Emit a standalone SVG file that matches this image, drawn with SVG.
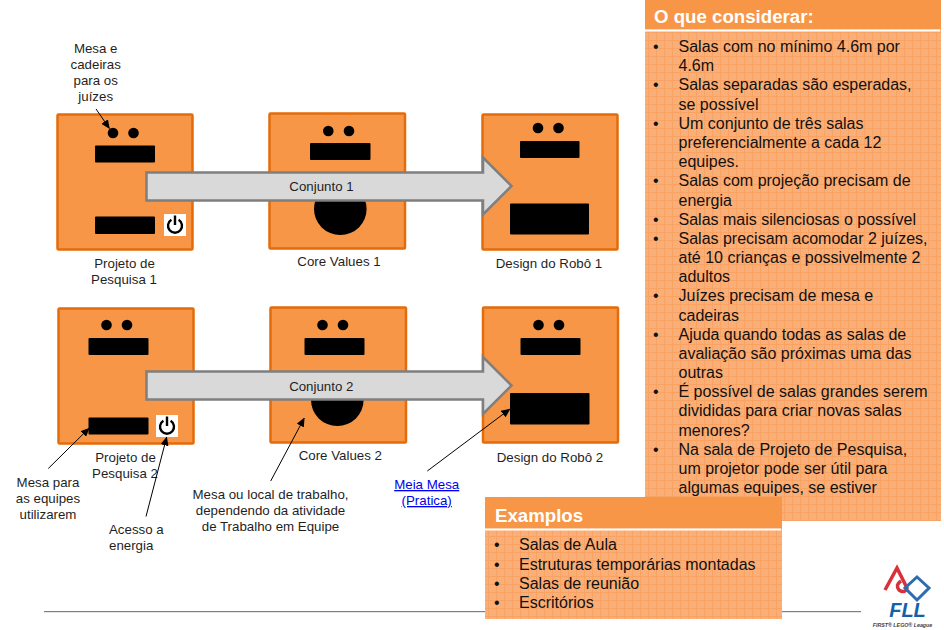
<svg xmlns="http://www.w3.org/2000/svg" width="944" height="630" viewBox="0 0 944 630">
<style>
text{font-family:"Liberation Sans",Arial,sans-serif;font-size:13.3px;fill:#1f1f1f}
.m{text-anchor:middle}
.room{fill:#F79646;stroke:#E46C0A;stroke-width:2.5}
.k{fill:#000}
.arrow{fill:#D9D9D9;stroke:#7F7F7F;stroke-width:2.5}
.lead{stroke:#000;stroke-width:1;fill:none;marker-end:url(#ah)}
.pw{fill:none;stroke:#000;stroke-width:2.4}
.h{font-size:18.67px;font-weight:bold;fill:#fff}
.b{font-size:16px;fill:#111}
.link{fill:#0000EE;text-decoration:underline}
</style>
<defs>
<marker id="ah" markerUnits="userSpaceOnUse" markerWidth="9" markerHeight="8" refX="8.5" refY="4" orient="auto"><path d="M0 0L9 4L0 8z" fill="#000"/></marker>
<pattern id="grid" width="8" height="8" patternUnits="userSpaceOnUse"><rect width="8" height="8" fill="#FAAF78"/><path d="M0 .5H8M.5 0V8" stroke="#F8A263" stroke-width="1"/></pattern>
<g id="pwr"><rect x="-11" y="-11" width="22" height="22" fill="#fff"/><path class="pw" d="M-3.6 -5.2A7 7 0 1 0 3.6 -5.2M0 -9.5V0"/></g>
</defs>

<rect id="rule" x="44" y="611" width="817" height="1.2" fill="#7F7F7F"/>

<g id="room-pesquisa-1">
<rect class="room" x="57.5" y="114.5" width="135" height="135" rx="1"/>
<circle class="k" cx="113" cy="133" r="5.3"/><circle class="k" cx="133.5" cy="133" r="5.3"/>
<rect class="k" x="95" y="145.5" width="60" height="17" rx="1"/>
<rect class="k" x="95" y="216.5" width="60" height="17.5" rx="1"/>
<use href="#pwr" x="175" y="225"/>
<text class="m" x="124.5" y="268">Projeto de</text><text class="m" x="124" y="284">Pesquisa 1</text>
</g>
<g id="room-core-1">
<rect class="room" x="269.5" y="113.5" width="135.5" height="135" rx="1"/>
<circle class="k" cx="328.3" cy="131" r="5.3"/><circle class="k" cx="349" cy="131" r="5.3"/>
<rect class="k" x="310" y="143" width="60.5" height="17" rx="1"/>
<ellipse class="k" cx="340.3" cy="209" rx="26.3" ry="26"/>
<text class="m" x="339" y="266">Core Values 1</text>
</g>
<g id="room-design-1">
<rect class="room" x="482.5" y="114.5" width="135" height="135" rx="1"/>
<circle class="k" cx="538" cy="128" r="5.3"/><circle class="k" cx="558.5" cy="128" r="5.3"/>
<rect class="k" x="520" y="141" width="59.5" height="17" rx="1"/>
<rect class="k" x="510" y="203.5" width="79" height="31" rx="1"/>
<text class="m" x="549" y="268">Design do Robô 1</text>
</g>
<g id="room-pesquisa-2">
<rect class="room" x="58.5" y="308.5" width="135" height="135" rx="1"/>
<circle class="k" cx="106.5" cy="325" r="5.3"/><circle class="k" cx="127" cy="325" r="5.3"/>
<rect class="k" x="88.5" y="338" width="60" height="17" rx="1"/>
<rect class="k" x="88.5" y="417.5" width="60" height="17" rx="1"/>
<use href="#pwr" x="167" y="426"/>
<text class="m" x="125.5" y="462">Projeto de</text><text class="m" x="125" y="478">Pesquisa 2</text>
</g>
<g id="room-core-2">
<rect class="room" x="270.5" y="307.5" width="135.5" height="135" rx="1"/>
<circle class="k" cx="322.5" cy="325" r="5.3"/><circle class="k" cx="343" cy="325" r="5.3"/>
<rect class="k" x="304.5" y="338" width="60" height="17" rx="1"/>
<ellipse class="k" cx="337.3" cy="400" rx="26.3" ry="26"/>
<text class="m" x="340.3" y="460">Core Values 2</text>
</g>
<g id="room-design-2">
<rect class="room" x="483" y="307.5" width="135" height="135" rx="1"/>
<circle class="k" cx="538.5" cy="325" r="5.3"/><circle class="k" cx="559" cy="325" r="5.3"/>
<rect class="k" x="520.5" y="338" width="60" height="17" rx="1"/>
<rect class="k" x="510" y="393" width="79.5" height="31.5" rx="1"/>
<text class="m" x="550" y="462">Design do Robô 2</text>
</g>

<g id="conjunto-1">
<path class="arrow" d="M146.5 172.5H483V157.5L511.5 186L483 214.5V200.5H146.5z"/>
<text class="m" x="321.5" y="191">Conjunto 1</text>
</g>
<g id="conjunto-2">
<path class="arrow" d="M146.5 371.5H483V357L511.5 385.5L483 414V399.5H146.5z"/>
<text class="m" x="321.3" y="391">Conjunto 2</text>
</g>

<g id="connectors">
<line class="lead" x1="96" y1="109" x2="109.5" y2="128.5"/>
<line class="lead" x1="48.3" y1="468.5" x2="89.3" y2="428"/>
<line class="lead" x1="146" y1="516.5" x2="166.7" y2="437"/>
<line class="lead" x1="270.7" y1="481" x2="304.3" y2="418"/>
<line class="lead" x1="427.3" y1="471" x2="510" y2="409"/>
</g>

<g id="label-mesa-juizes">
<text class="m" x="95.7" y="53">Mesa e</text><text class="m" x="95.7" y="69">cadeiras</text><text class="m" x="95.7" y="85">para os</text><text class="m" x="95.7" y="101">juízes</text>
</g>
<g id="label-mesa-equipes">
<text class="m" x="48" y="487">Mesa para</text><text class="m" x="48" y="503">as equipes</text><text class="m" x="48" y="519">utilizarem</text>
</g>
<g id="label-energia">
<text x="109" y="534">Acesso a</text><text x="109" y="550">energia</text>
</g>
<g id="label-local">
<text class="m" x="270.5" y="499">Mesa ou local de trabalho,</text><text class="m" x="270.5" y="515">dependendo da atividade</text><text class="m" x="270.5" y="531">de Trabalho em Equipe</text>
</g>
<g id="label-meia-mesa">
<text class="m link" x="426.7" y="489">Meia Mesa</text><text class="m link" x="426.7" y="505">(Pratica)</text>
</g>

<g id="panel-considerar">
<rect x="645" y="0" width="296" height="521" fill="url(#grid)"/>
<rect x="645" y="0" width="296" height="29" fill="#F79646"/>
<rect x="645" y="29.5" width="295" height="2" fill="#fff"/>
<text class="h" x="654" y="23">O que considerar:</text>
<text class="b" x="653" y="52">•</text><text class="b" x="678.5" y="52">Salas com no mínimo 4.6m por</text>
<text class="b" x="678.5" y="71.2">4.6m</text>
<text class="b" x="653" y="90.4">•</text><text class="b" x="678.5" y="90.4">Salas separadas são esperadas,</text>
<text class="b" x="678.5" y="109.6">se possível</text>
<text class="b" x="653" y="128.8">•</text><text class="b" x="678.5" y="128.8">Um conjunto de três salas</text>
<text class="b" x="678.5" y="148">preferencialmente a cada 12</text>
<text class="b" x="678.5" y="167.2">equipes.</text>
<text class="b" x="653" y="186.4">•</text><text class="b" x="678.5" y="186.4">Salas com projeção precisam de</text>
<text class="b" x="678.5" y="205.5">energia</text>
<text class="b" x="653" y="224.7">•</text><text class="b" x="678.5" y="224.7">Salas mais silenciosas o possível</text>
<text class="b" x="653" y="243.9">•</text><text class="b" x="678.5" y="243.9">Salas precisam acomodar 2 juízes,</text>
<text class="b" x="678.5" y="263">até 10 crianças e possivelmente 2</text>
<text class="b" x="678.5" y="282.2">adultos</text>
<text class="b" x="653" y="301.4">•</text><text class="b" x="678.5" y="301.4">Juízes precisam de mesa e</text>
<text class="b" x="678.5" y="320.6">cadeiras</text>
<text class="b" x="653" y="339.7">•</text><text class="b" x="678.5" y="339.7">Ajuda quando todas as salas de</text>
<text class="b" x="678.5" y="358.9">avaliação são próximas uma das</text>
<text class="b" x="678.5" y="378">outras</text>
<text class="b" x="653" y="397.2">•</text><text class="b" x="678.5" y="397.2">É possível de salas grandes serem</text>
<text class="b" x="678.5" y="416.4">divididas para criar novas salas</text>
<text class="b" x="678.5" y="435.6">menores?</text>
<text class="b" x="653" y="454.8">•</text><text class="b" x="678.5" y="454.8">Na sala de Projeto de Pesquisa,</text>
<text class="b" x="678.5" y="474">um projetor pode ser útil para</text>
<text class="b" x="678.5" y="493">algumas equipes, se estiver</text>
</g>

<g id="panel-examplos">
<rect x="485" y="497" width="297" height="122" fill="url(#grid)"/>
<rect x="485" y="497" width="297" height="31" fill="#F79646"/>
<rect x="485" y="528.5" width="296" height="2" fill="#fff"/>
<text class="h" x="495" y="521.5">Examplos</text>
<text class="b" x="494" y="550">•</text><text class="b" x="519" y="550">Salas de Aula</text>
<text class="b" x="494" y="569.5">•</text><text class="b" x="519" y="569.5">Estruturas temporárias montadas</text>
<text class="b" x="494" y="589">•</text><text class="b" x="519" y="589">Salas de reunião</text>
<text class="b" x="494" y="608">•</text><text class="b" x="519" y="608">Escritórios</text>
</g>

<g id="logo-fll">
<path d="M885 590L897 568L907 588Q905 594 899 590Q895 585 901 581" fill="none" stroke="#D9303A" stroke-width="3.5"/>
<path d="M917 577L929 588L917 600L905 588z" fill="none" stroke="#2A6DB0" stroke-width="3"/>
<text x="907.5" y="617" text-anchor="middle" style="font-size:20px;font-weight:bold;font-style:italic;fill:#1561A8">FLL</text>
<text x="902.5" y="627" text-anchor="middle" style="font-size:5.3px;font-weight:bold;font-style:italic;fill:#444">FIRST® LEGO® League</text>
</g>
</svg>
